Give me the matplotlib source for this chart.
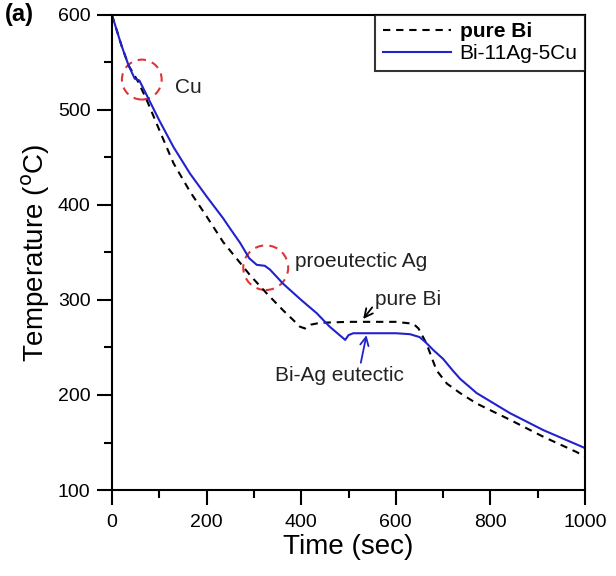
import matplotlib.pyplot as plt
from matplotlib.patches import Ellipse
from matplotlib.ticker import MultipleLocator

plt.rcParams['font.family'] = ['Liberation Sans', 'DejaVu Sans']

# pure Bi cooling curve
bi_t = [0, 20, 35, 55, 73, 100, 130, 165, 200, 235, 271, 292, 327, 362, 385, 397,
        408, 420, 440, 500, 600, 637, 648, 665, 686, 708, 736, 771, 841, 912, 982, 1000]
bi_T = [600, 568, 547, 530, 511, 479, 444, 414, 388, 361, 339, 326, 307, 289, 278, 272,
        270, 274, 276, 277, 277, 275, 270, 254, 226, 212, 202, 191, 174, 156, 140, 135]

# Bi-11Ag-5Cu cooling curve
alloy_t = [0, 20, 35, 48, 58, 73, 100, 130, 165, 200, 235, 250, 271, 290, 306, 323,
           334, 362, 400, 433, 460, 493, 500, 510, 560, 600, 630, 650, 662, 680,
           700, 720, 736, 771, 841, 912, 996, 1000]
alloy_T = [600, 568, 547, 533, 531, 516, 489, 461, 433, 409, 386, 375, 360, 344, 337, 336,
           332, 317, 300, 286, 272, 258, 263, 265, 265, 265, 264, 261, 256, 247,
           238, 226, 217, 202, 181, 163, 145, 144]

fig = plt.figure(figsize=(6.16, 5.76), dpi=100)
ax = fig.add_axes([0.1818, 0.1493, 0.7679, 0.8247])

ax.plot(bi_t, bi_T, color='black', linestyle=(0, (3.5, 2.8)), linewidth=1.5, label='pure Bi')
ax.plot(alloy_t, alloy_T, color='#2222cc', linewidth=1.5, label='Bi-11Ag-5Cu')

ax.set_xlim(0, 1000)
ax.set_ylim(100, 600)
ax.xaxis.set_major_locator(MultipleLocator(200))
ax.xaxis.set_minor_locator(MultipleLocator(100))
ax.yaxis.set_major_locator(MultipleLocator(100))
ax.yaxis.set_minor_locator(MultipleLocator(50))
ax.tick_params(which='major', direction='out', length=10.5, width=1.5, labelsize=14, pad=5)
ax.tick_params(which='minor', direction='out', length=5.5, width=1.5)
ax.tick_params(axis='x', which='major', pad=7)
for s in ax.spines.values():
    s.set_linewidth(1.5)

ax.set_xlabel('Time (sec)', fontsize=20, labelpad=2)
ax.set_ylabel('Temperature ($^{\\mathrm{o}}$C)', fontsize=20, labelpad=4)

# red dashed circles
for (cx, cy, w, h) in [(63, 532, 84, 42), (325, 334, 95, 47)]:
    ax.add_patch(Ellipse((cx, cy), w, h, fill=False, edgecolor='#e03535',
                         linestyle=(0, (4, 3)), linewidth=1.5))

ax.text(133, 524, 'Cu', fontsize=15, va='center', color='#222222')
ax.text(387, 340, 'proeutectic Ag', fontsize=15, va='center', color='#222222')
ax.annotate('pure Bi', xy=(531, 280), xytext=(556, 300), fontsize=15, va='center',
            color='#222222',
            arrowprops=dict(arrowstyle='->', color='black', lw=1.3, shrinkA=0, shrinkB=0,
                            relpos=(0, 0.3)))
ax.annotate('Bi-Ag eutectic', xy=(538, 263), xytext=(345, 221), fontsize=15, va='center',
            color='#222222',
            arrowprops=dict(arrowstyle='->', color='#2222cc', lw=1.3, shrinkA=0, shrinkB=0,
                            relpos=(0.66, 1.0)))

leg = ax.legend(loc='upper right', fontsize=15, frameon=True, fancybox=False,
                borderaxespad=0, handlelength=3.3, handletextpad=0.4,
                borderpad=0.35, labelspacing=0.15)
leg.get_frame().set_edgecolor('black')
leg.get_frame().set_linewidth(1.5)
leg.get_texts()[0].set_fontweight('bold')

fig.text(0.008, 0.974, '(a)', fontsize=17, fontweight='bold', va='center')

fig.savefig('out.png', dpi=100)
